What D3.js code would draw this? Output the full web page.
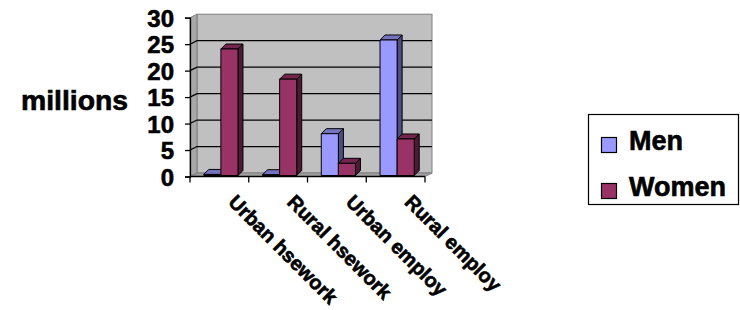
<!DOCTYPE html>
<html><head><meta charset="utf-8">
<script src="https://cdn.jsdelivr.net/npm/d3@7"></script>
<style>
body{margin:0;background:#fff;}
text{font-family:"Liberation Sans",Arial,sans-serif;font-weight:bold;fill:#000;stroke:#000;stroke-width:0.6px;}
</style></head>
<body><svg id="c" width="740" height="310"></svg>
<script>
const categories = ["Urban hsework","Rural hsework","Urban employ","Rural employ"];
const seriesNames = ["Men","Women"];
const menValues = [0.2, 0.15, 7.9, 25.6];
const womenValues = [23.9, 18.2, 2.3, 6.9];
const yTicks = [0,5,10,15,20,25,30];
const yTitle = "millions";

const frontColors = {Men:"#9999FF", Women:"#993366"};
const topColors = {Men:"#7373BF", Women:"#73264D"};
const sideColors = {Men:"#4D4D80", Women:"#4D1A33"};

const svg = d3.select("#c");
const x0 = 190, x1 = 425, yBase = 176.5, yTopPx = 17.7;
const wallDx = 7, wallDy = -3.5;
const barDx = 1.5, barDy = -1;
const depthDx = 5, depthDy = -5;

const x = d3.scaleBand().domain(categories).range([x0, x1]).padding(0);
const xs = d3.scaleBand().domain(seriesNames).range([0, x.bandwidth()]).paddingInner(0).paddingOuter(0.72);
const y = d3.scaleLinear().domain([0,30]).range([yBase, yTopPx]);

const g = svg.append("g");
g.append("rect").attr("x", x0+wallDx).attr("y", y(30)+wallDy)
  .attr("width", x1-x0).attr("height", y(0)-y(30))
  .attr("fill","#C0C0C0").attr("stroke","#808080").attr("stroke-width",1);
g.append("polygon").attr("points", [[x0,y(30)],[x0+wallDx,y(30)+wallDy],[x0+wallDx,y(0)+wallDy],[x0,y(0)]].join(" "))
  .attr("fill","#A8A8A8").attr("stroke","#808080").attr("stroke-width",1);
g.append("polygon").attr("points", [[x0,y(0)],[x0+wallDx,y(0)+wallDy],[x1+wallDx,y(0)+wallDy],[x1,y(0)]].join(" "))
  .attr("fill","#A0A0A0").attr("stroke","#808080").attr("stroke-width",1);

yTicks.filter(t => t>0 && t<30).forEach(t => {
  g.append("polyline").attr("points", [[x0,y(t)],[x0+wallDx,y(t)+wallDy],[x1+wallDx,y(t)+wallDy]].join(" "))
    .attr("fill","none").attr("stroke","#000").attr("stroke-width",1.2);
});

categories.forEach((c,i) => {
  seriesNames.forEach(s => {
    const v = (s==="Men"?menValues:womenValues)[i];
    const bx = x(c) + xs(s) + barDx;
    const bw = xs.bandwidth();
    const yt = y(v) + barDy, yb = y(0) + barDy;
    const bg = g.append("g").attr("stroke","#000").attr("stroke-width",1).attr("stroke-linejoin","round");
    bg.append("polygon").attr("points", [[bx+bw,yt],[bx+bw+depthDx,yt+depthDy],[bx+bw+depthDx,yb+depthDy],[bx+bw,yb]].join(" "))
      .attr("fill", sideColors[s]);
    bg.append("polygon").attr("points", [[bx,yt],[bx+depthDx,yt+depthDy],[bx+bw+depthDx,yt+depthDy],[bx+bw,yt]].join(" "))
      .attr("fill", topColors[s]);
    bg.append("rect").attr("x",bx).attr("y",yt).attr("width",bw).attr("height",Math.max(0,yb-yt))
      .attr("fill", frontColors[s]);
  });
});

const ya = svg.append("g").attr("transform",`translate(${x0},0)`)
  .call(d3.axisLeft(y).tickValues(yTicks).tickSize(5).tickPadding(11).tickFormat(d3.format("d")));
ya.select(".domain").attr("stroke","#000").attr("stroke-width",1.3);
ya.selectAll(".tick line").attr("stroke","#000").attr("stroke-width",1.3);
ya.selectAll(".tick text").style("font-size","24px").style("font-family","'Liberation Sans',Arial,sans-serif")
  .style("font-weight","bold").style("stroke","#000").style("stroke-width","0.6px").attr("dy","0.36em");

const xa = svg.append("g").attr("transform",`translate(0,${yBase})`);
xa.append("line").attr("x1",x0).attr("x2",x1).attr("stroke","#000").attr("stroke-width",1.3);
const bounds = categories.map(c => x(c)).concat([x1]);
xa.selectAll("line.tk").data(bounds).join("line").attr("class","tk")
  .attr("x1",d=>d).attr("x2",d=>d).attr("y1",0).attr("y2",6).attr("stroke","#000").attr("stroke-width",1.3);
svg.append("g").selectAll("text").data(categories).join("text")
  .attr("transform", d => `translate(${x(d)+x.bandwidth()/2+18},193) rotate(45)`)
  .attr("dy","0.72em").style("font-size","20px").text(d=>d);

svg.append("text").attr("x",21).attr("y",110).style("font-size","27px")
  .attr("transform","translate(21,0) scale(1.05,1) translate(-21,0)").text(yTitle);

const lg = svg.append("g");
lg.append("rect").attr("x",588.5).attr("y",114.5).attr("width",150).attr("height",90)
  .attr("fill","#fff").attr("stroke","#000").attr("stroke-width",1.2);
seriesNames.forEach((s,i) => {
  const yy = 137 + i*46;
  lg.append("rect").attr("x",601.5).attr("y",yy+0.5).attr("width",15).attr("height",15)
    .attr("fill",frontColors[s]).attr("stroke","#000").attr("stroke-width",1.2);
  lg.append("text").attr("x",629).attr("y",yy+13).style("font-size","27px").text(s);
});
</script></body></html>
